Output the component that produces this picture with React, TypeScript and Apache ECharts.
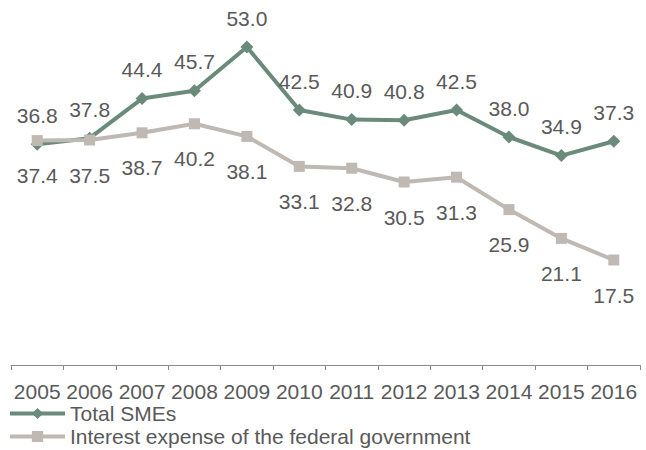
import React, { useEffect, useRef } from "react";
import * as echarts from "echarts";

const years = ["2005", "2006", "2007", "2008", "2009", "2010", "2011", "2012", "2013", "2014", "2015", "2016"];
const totalSMEs = [36.8, 37.8, 44.4, 45.7, 53.0, 42.5, 40.9, 40.8, 42.5, 38.0, 34.9, 37.3];
const federalInterest = [37.4, 37.5, 38.7, 40.2, 38.1, 33.1, 32.8, 30.5, 31.3, 25.9, 21.1, 17.5];

const FONT = "Liberation Sans, Arial, sans-serif";
const TEXT = "#595959";
const FS = 21;

export default function App() {
  const ref = useRef<HTMLDivElement>(null);
  useEffect(() => {
    const chart = echarts.init(ref.current!, null, { renderer: "svg" });
    chart.setOption({
      animation: false,
      grid: { left: 11, right: 6, top: 5, bottom: 85, containLabel: false },
      legend: {
        orient: "vertical",
        left: 8,
        top: 403,
        height: 100,
        padding: 0,
        itemWidth: 55,
        itemHeight: 14,
        itemGap: 2,
        lineStyle: { width: 4 },
        textStyle: { fontFamily: FONT, fontSize: FS, color: TEXT },
        data: ["Total SMEs", "Interest expense of the federal government"],
      },
      xAxis: {
        type: "category",
        data: years,
        boundaryGap: true,
        axisLine: { lineStyle: { color: "#8c8c8c", width: 1 } },
        axisTick: { show: true, length: 5, lineStyle: { color: "#8c8c8c" } },
        axisLabel: { fontFamily: FONT, fontSize: FS, color: TEXT, margin: 16, interval: 0 },
      },
      yAxis: {
        type: "value",
        min: 0,
        max: 60,
        show: false,
        splitLine: { show: false },
      },
      series: [
        {
          name: "Total SMEs",
          type: "line",
          data: totalSMEs,
          symbol: "diamond",
          symbolSize: 13,
          itemStyle: { color: "#6a8a7a" },
          lineStyle: { color: "#6a8a7a", width: 4 },
          label: {
            show: true,
            position: "top",
            distance: 12,
            formatter: (p: any) => p.value.toFixed(1),
            fontFamily: FONT,
            fontSize: FS,
            color: TEXT,
          },
          z: 3,
        },
        {
          name: "Interest expense of the federal government",
          type: "line",
          data: federalInterest,
          symbol: "rect",
          symbolSize: 11,
          itemStyle: { color: "#bfb8b3" },
          lineStyle: { color: "#bfb8b3", width: 4 },
          label: {
            show: true,
            position: "bottom",
            distance: 19,
            formatter: (p: any) => p.value.toFixed(1),
            fontFamily: FONT,
            fontSize: FS,
            color: TEXT,
          },
          z: 4,
        },
      ],
    });
    return () => chart.dispose();
  }, []);
  return <div ref={ref} style={{ width: 646, height: 450, position: "absolute", left: 0, top: 0 }} />;
}
